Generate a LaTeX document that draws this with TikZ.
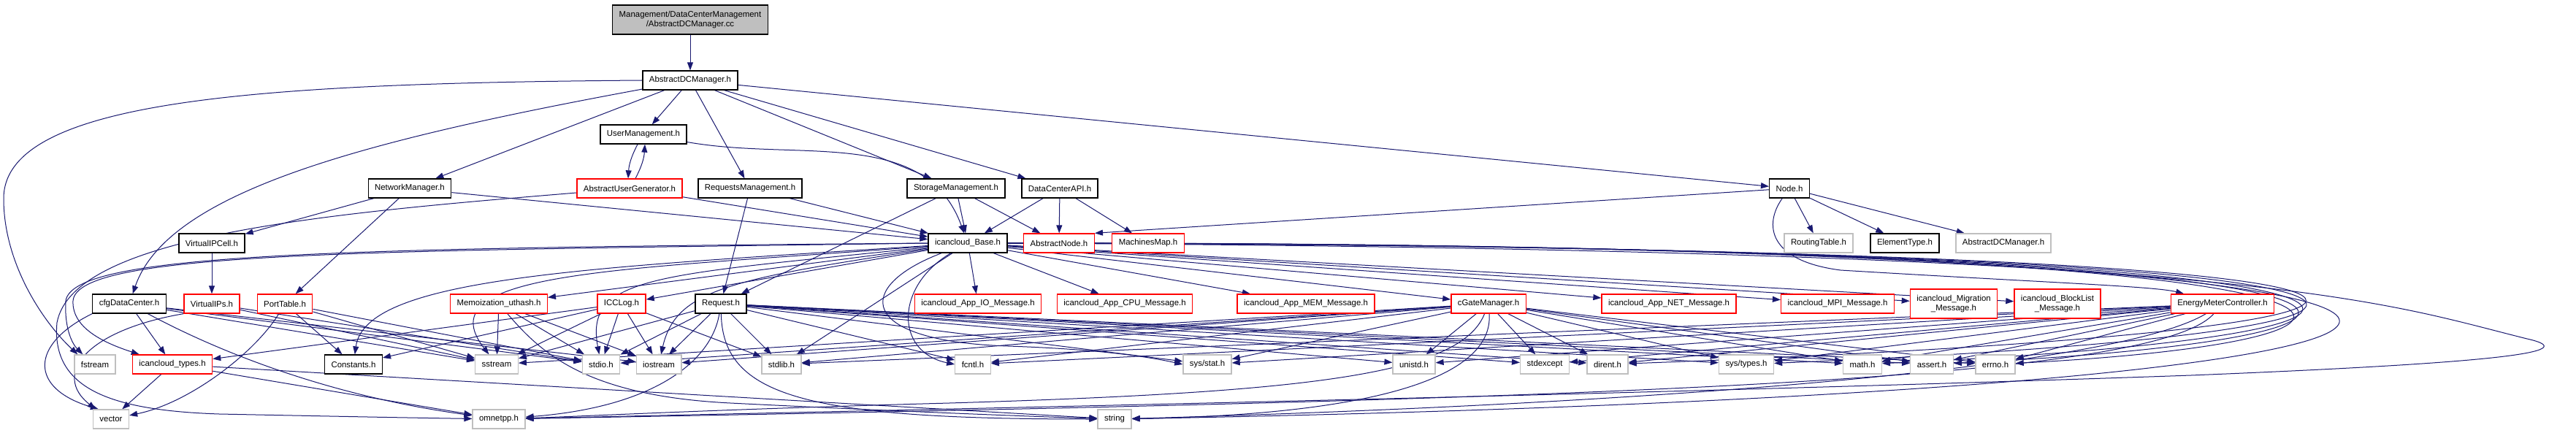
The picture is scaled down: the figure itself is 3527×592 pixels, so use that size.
\documentclass[tikz,border=0pt]{standalone}
\usepackage{fontspec}
\setmainfont{Liberation Sans}
\usetikzlibrary{arrows.meta,backgrounds}
\definecolor{lnk}{HTML}{191970}
\definecolor{boxred}{HTML}{FF0000}
\definecolor{boxgrey}{HTML}{BFBFBF}
\tikzset{box/.style={draw=black,line width=1.3pt,fill=white,font=\fontsize{11.4}{13.6}\selectfont,inner xsep=9pt,inner ysep=2pt,minimum height=26pt},
         trunc/.style={box,draw=boxred},
         sysh/.style={box,draw=boxgrey},
         root/.style={box,fill=boxgrey,align=center,minimum height=40pt},
         twoline/.style={trunc,align=center,minimum height=40pt},
         arr/.style={-{Triangle[length=11pt,width=8pt]},draw=lnk,line width=1pt}}

\begin{document}
\begin{tikzpicture}[x=1pt,y=1pt]
 \useasboundingbox (0,0) rectangle (3527,592);
 % files
 \node[root] (cc) at (945,565) {Management/DataCenterManagement\\/AbstractDCManager.cc};
 \node[box] (adcm) at (945,482) {AbstractDCManager.h};
 \node[box] (um) at (881,408) {UserManagement.h};
 \node[box] (nm) at (561,334) {NetworkManager.h};
 \node[trunc] (aug) at (862,334) {AbstractUserGenerator.h};
 \node[box] (rm) at (1027,334) {RequestsManagement.h};
 \node[box] (sm) at (1309,334) {StorageManagement.h};
 \node[box] (dcapi) at (1451,334) {DataCenterAPI.h};
 \node[box] (nodeh) at (2450,334) {Node.h};
 \node[box] (vipcell) at (290,259) {VirtualIPCell.h};
 \node[box] (base) at (1325,259) {icancloud\_Base.h};
 \node[trunc] (anode) at (1450,259) {AbstractNode.h};
 \node[trunc] (mmap) at (1572,259) {MachinesMap.h};
 \node[sysh] (rtable) at (2490,259) {RoutingTable.h};
 \node[box] (etype) at (2608,259) {ElementType.h};
 \node[sysh] (adcmg) at (2743,259) {AbstractDCManager.h};
 \node[box] (cfgdc) at (177,176) {cfgDataCenter.h};
 \node[trunc] (vips) at (290,176) {VirtualIPs.h};
 \node[trunc] (ptable) at (390,176) {PortTable.h};
 \node[trunc] (memo) at (683,176) {Memoization\_uthash.h};
 \node[trunc] (icclog) at (851,176) {ICCLog.h};
 \node[box] (req) at (987,176) {Request.h};
 \node[trunc] (io) at (1339,176) {icancloud\_App\_IO\_Message.h};
 \node[trunc] (cpu) at (1540,176) {icancloud\_App\_CPU\_Message.h};
 \node[trunc] (mem) at (1788,176) {icancloud\_App\_MEM\_Message.h};
 \node[trunc] (cgate) at (2038,176) {cGateManager.h};
 \node[trunc] (net) at (2285,176) {icancloud\_App\_NET\_Message.h};
 \node[trunc] (mpi) at (2516,176) {icancloud\_MPI\_Message.h};
 \node[twoline] (migr) at (2675,176) {icancloud\_Migration\\\_Message.h};
 \node[twoline] (block) at (2817,176) {icancloud\_BlockList\\\_Message.h};
 \node[trunc] (emc) at (3043,176) {EnergyMeterController.h};
 \node[sysh] (fstream) at (130,93) {fstream};
 \node[trunc] (ictypes) at (236,93) {icancloud\_types.h};
 \node[box] (const) at (484,93) {Constants.h};
 \node[sysh] (sstream) at (680,93) {sstream};
 \node[sysh] (stdio) at (823,93) {stdio.h};
 \node[sysh] (iostream) at (902,93) {iostream};
 \node[sysh] (stdlib) at (1070,93) {stdlib.h};
 \node[sysh] (fcntl) at (1332,93) {fcntl.h};
 \node[sysh] (sysstat) at (1653,93) {sys/stat.h};
 \node[sysh] (unistd) at (1936,93) {unistd.h};
 \node[sysh] (stdexcept) at (2115,93) {stdexcept};
 \node[sysh] (dirent) at (2201,93) {dirent.h};
 \node[sysh] (systypes) at (2391,93) {sys/types.h};
 \node[sysh] (math) at (2550,93) {math.h};
 \node[sysh] (assert) at (2645,93) {assert.h};
 \node[sysh] (errno) at (2732,93) {errno.h};
 \node[sysh] (vector) at (152,18) {vector};
 \node[sysh] (omnetpp) at (683,18) {omnetpp.h};
 \node[sysh] (string) at (1526,18) {string};

 \begin{scope}[on background layer]
 \fill[white] (0,0) rectangle (3527,592);
 % upper part
 \draw[arr] (cc) -- (adcm);
 \draw[arr] (adcm.west) .. controls (350,478) and (5,455) .. (5,320) .. controls (5,230) and (60,150) .. ([xshift=5pt]fstream.north west);
 \draw[arr] (adcm) .. controls (500,400) and (230,330) .. (cfgdc);
 \foreach \t in {nm,um,rm,sm,dcapi,nodeh} \draw[arr] (adcm) -- (\t);
 \draw[arr] ([xshift=-8pt]um.south) to[bend right=12] ([xshift=-2pt]aug.north);
 \draw[arr] ([xshift=8pt]aug.north) to[bend right=12] ([xshift=2pt]um.south);
 \draw[arr] (um) to[out=-10,in=110] (base);
 \draw[arr] (aug) -- (base);
 \draw[arr] (aug) .. controls (450,300) and (100,270) .. (78,150) .. controls (70,60) and (150,30) .. (300,25) .. controls (450,22) and (550,20) .. (omnetpp);
 \foreach \t in {vipcell,ptable,base} \draw[arr] (nm) -- (\t);
 \draw[arr] (vipcell) -- (vips);
 \foreach \t in {base,req} \draw[arr] (rm) -- (\t);
 \foreach \t in {base,req,anode} \draw[arr] (sm) -- (\t);
 \foreach \t in {base,anode,mmap} \draw[arr] (dcapi) -- (\t);
 \draw[arr] (nodeh) -- (anode.north east);
 \foreach \t in {rtable,etype,adcmg} \draw[arr] (nodeh) -- (\t);
 \draw[arr] (nodeh) .. controls (2415,285) and (2420,235) .. (2520,222) .. controls (2800,205) and (2950,200) .. (emc);
 % left group
 \draw[arr] (cfgdc.south west) .. controls (40,120) and (40,60) .. ([xshift=8pt]vector.north west);
 \foreach \t in {ictypes,sstream,stdio,iostream} \draw[arr] (cfgdc) -- (\t);
 \draw[arr] (cfgdc) .. controls (300,110) and (450,50) .. (omnetpp);
 \draw[arr] (vips.south west) .. controls (120,140) and (70,80) .. ([xshift=4pt]vector.north west);
 \foreach \t in {sstream,stdio} \draw[arr] (vips) -- (\t);
 \draw[arr] (ptable) .. controls (350,110) and (260,40) .. (vector);
 \foreach \t in {const,sstream,stdio} \draw[arr] (ptable) -- (\t);
 \foreach \t in {vector,omnetpp,string} \draw[arr] (ictypes) -- (\t);
 \foreach \t in {sstream,stdio,iostream} \draw[arr] (memo) -- (\t);
 \draw[arr] (memo) .. controls (740,110) and (800,50) .. (1000,40) .. controls (1200,30) and (1400,22) .. (string);
 \foreach \t in {stdio,iostream,stdlib,sstream,const,ictypes} \draw[arr] (icclog) -- (\t);
 \foreach \t in {sstream,stdio,iostream,stdlib,fcntl,sysstat,unistd,stdexcept,dirent,systypes,math,assert,errno} \draw[arr] (req) -- (\t);
 \draw[arr] (req) .. controls (975,100) and (900,35) .. (omnetpp);
 \draw[arr] (req) .. controls (990,50) and (1100,18) .. (string);
 % icancloud_Base.h
 \foreach \t in {memo,icclog,stdlib,io,cpu,mem,cgate,net,mpi,migr,block} \draw[arr] (base) -- (\t);
 \draw[arr] (base.west) .. controls (500,248) and (105,248) .. (100,180) .. controls (98,140) and (150,120) .. ([xshift=10pt]ictypes.north west);
 \draw[arr] (base.west) .. controls (450,252) and (100,245) .. (90,180) .. controls (88,140) and (100,120) .. ([xshift=12pt]fstream.north west);
 \draw[arr] (base) .. controls (800,225) and (500,212) .. (const);
 \draw[arr] (base) .. controls (850,222) and (580,222) .. (sstream);
 \draw[arr] (base) .. controls (900,215) and (800,215) .. (stdio);
 \draw[arr] (base) .. controls (1000,210) and (925,195) .. (iostream);
 \draw[arr] (base) .. controls (1225,200) and (1225,110) .. (fcntl.west);
 \draw[arr] (base) .. controls (1170,200) and (1170,125) .. (1380,118) .. controls (1500,114) and (1570,104) .. (sysstat.west);
 \foreach \t/\c/\u/\l in {errno/3400/262/128,assert/3440/260/132,math/3480/258/136,systypes/3530/256/140,dirent/3580/254/144}
   \draw[arr] (base.east) .. controls (\c,\u) and (\c,\l) .. (\t);
 \draw[arr] (base.east) .. controls (3780,262) and (3780,60) .. (string);
 \draw[arr] (base.east) .. controls (3100,250) and (3250,180) .. (3460,128) .. controls (3540,110) and (3420,95) .. (3000,78) .. controls (2200,50) and (1200,30) .. (omnetpp);
 % right group
 \foreach \t in {unistd,stdexcept,dirent,systypes,math,assert,errno,stdio,iostream,stdlib,sstream,fcntl,sysstat} \draw[arr] (cgate) -- (\t);
 \draw[arr] (cgate) .. controls (2000,80) and (1800,55) .. (1300,40) .. controls (1000,32) and (800,22) .. (omnetpp);
 \draw[arr] (cgate) .. controls (2045,80) and (1900,25) .. (string);
 \foreach \t in {systypes,math,assert,errno,dirent,stdexcept,unistd,sysstat,fcntl,stdlib} \draw[arr] (emc) -- (\t);
 \draw[arr] (emc) .. controls (2900,90) and (2300,40) .. (string);
 \draw[arr] (emc) .. controls (2950,70) and (2200,45) .. (omnetpp);
 \end{scope}
\end{tikzpicture}
\end{document}
